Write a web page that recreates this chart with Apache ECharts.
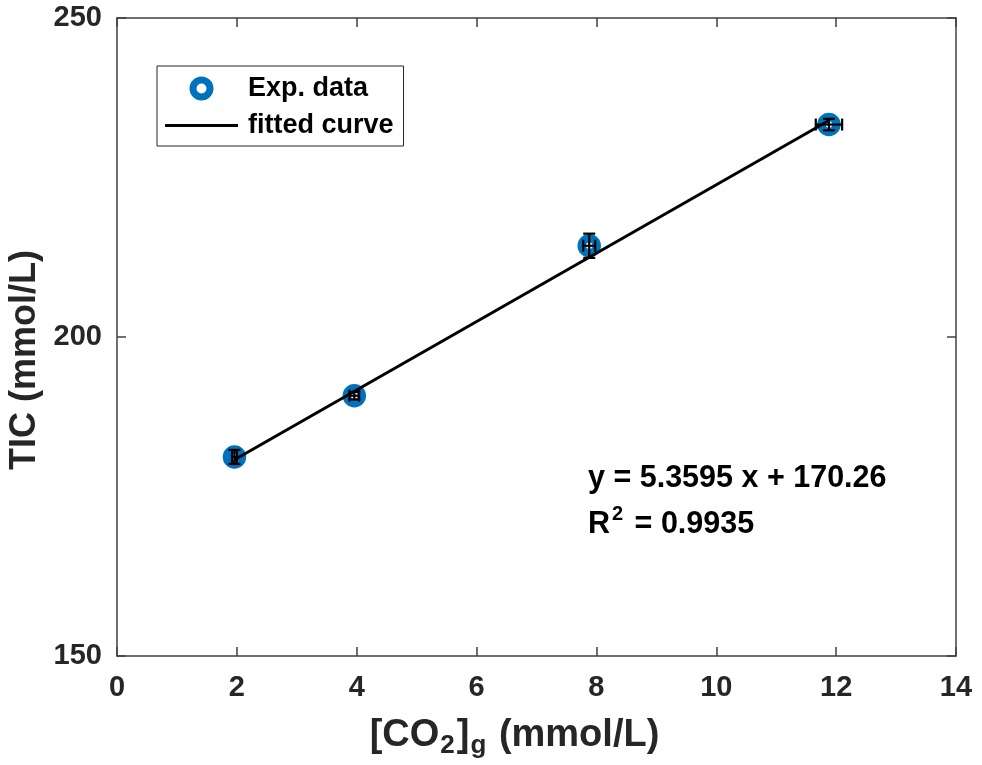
<!DOCTYPE html>
<html>
<head>
<meta charset="utf-8">
<title>TIC vs gaseous CO2</title>
<script src="https://cdn.jsdelivr.net/npm/echarts@6/dist/echarts.min.js"></script>
<style>
  html, body { margin: 0; padding: 0; background: #fff; }
  #chart { width: 982px; height: 765px; }
</style>
</head>
<body>
<div id="chart"></div>
<script>
// Measured points: gaseous CO2 concentration vs total inorganic carbon
const co2 = [1.96, 3.96, 7.88, 11.88];
const tic = [181.2, 190.8, 214.3, 233.3];
// Error bar half-widths
const co2Err = [0.04, 0.08, 0.1, 0.22];
const ticErr = [1.1, 0.6, 1.9, 0.9];
// Linear fit coefficients
const slope = 5.3595;
const intercept = 170.26;
const r2 = 0.9935;
// Axis ranges and tick spacing
const xRange = [0, 14];
const xStep = 2;
const yRange = [150, 250];
const yStep = 50;

const FONT = 'Liberation Sans, Arial, sans-serif';
const TXT = '#262626';
const AX = '#404040';
const BLUE = '#0072BD';

const points = co2.map((x, i) => [x, tic[i], co2Err[i], ticErr[i]]);
const xFirst = co2[0], xLast = co2[co2.length - 1];
const fitLine = [
  [xFirst, slope * xFirst + intercept],
  [xLast, slope * xLast + intercept]
];

const chart = echarts.init(document.getElementById('chart'), null, { renderer: 'canvas' });

function axisBase(extra) {
  return Object.assign({
    type: 'value',
    axisLine: { show: true, onZero: false, lineStyle: { color: AX, width: 1.5 } },
    axisTick: { show: true, inside: true, length: 9, lineStyle: { color: AX, width: 1.5 } },
    splitLine: { show: false },
    axisLabel: { color: TXT, fontFamily: FONT, fontWeight: 'bold', fontSize: 29 }
  }, extra);
}

const option = {
  animation: false,
  backgroundColor: '#fff',
  grid: { left: 117, right: 26, top: 18, bottom: 109, containLabel: false, outerBoundsMode: 'none' },
  xAxis: [
    axisBase({
      min: xRange[0], max: xRange[1], interval: xStep, position: 'bottom',
      axisLabel: { color: TXT, fontFamily: FONT, fontWeight: 'bold', fontSize: 29, margin: 17 },
      name: '[CO{sub|2}]{sub|g} (mmol/L)',
      nameLocation: 'middle',
      nameGap: 61,
      nameTextStyle: {
        color: TXT, fontFamily: FONT, fontWeight: 'bold', fontSize: 38, lineHeight: 38,
        padding: [0, 44, 0, 0],
        rich: {
          sub: { fontFamily: FONT, fontWeight: 'bold', fontSize: 26, lineHeight: 26, padding: [20, 2, 0, 1], color: TXT }
        }
      }
    }),
    axisBase({
      min: xRange[0], max: xRange[1], interval: xStep, position: 'top',
      axisLabel: { show: false }
    })
  ],
  yAxis: [
    axisBase({
      min: yRange[0], max: yRange[1], interval: yStep, position: 'left',
      axisLabel: { color: TXT, fontFamily: FONT, fontWeight: 'bold', fontSize: 29, margin: 15 },
      name: 'TIC (mmol/L)',
      nameLocation: 'middle',
      nameGap: 70,
      nameTextStyle: { color: TXT, fontFamily: FONT, fontWeight: 'bold', fontSize: 36, padding: [0, 46, 0, 0] }
    }),
    axisBase({
      min: yRange[0], max: yRange[1], interval: yStep, position: 'right',
      axisLabel: { show: false }
    })
  ],
  legend: {
    orient: 'vertical',
    left: 157,
    top: 66,
    padding: [9, 10, 7, 8],
    itemGap: 10,
    itemWidth: 73,
    itemHeight: 17,
    borderColor: TXT,
    borderWidth: 1,
    backgroundColor: '#fff',
    textStyle: { color: '#000', fontFamily: FONT, fontWeight: 'bold', fontSize: 27, padding: [0, 0, 0, 5] },
    data: [
      { name: 'Exp. data', icon: 'circle', itemStyle: { color: '#fff', borderColor: BLUE, borderWidth: 7 } },
      { name: 'fitted curve', icon: 'path://M0,0H73V3H0Z', itemStyle: { color: '#000', borderWidth: 0 } }
    ]
  },
  series: [
    {
      name: 'Exp. data',
      type: 'scatter',
      data: points,
      symbol: 'circle',
      symbolSize: 15,
      itemStyle: { color: '#fff', borderColor: BLUE, borderWidth: 8.5, opacity: 1 },
      z: 2
    },
    {
      name: 'fitted curve',
      type: 'line',
      data: fitLine,
      symbol: 'none',
      showSymbol: false,
      lineStyle: { color: '#000', width: 3 },
      itemStyle: { color: '#000' },
      z: 3
    },
    {
      name: 'error bars',
      type: 'custom',
      data: points,
      z: 4,
      silent: true,
      renderItem: function (params, api) {
        const x = api.value(0), y = api.value(1), ex = api.value(2), ey = api.value(3);
        const top = api.coord([x, y + ey]);
        const bot = api.coord([x, y - ey]);
        const lft = api.coord([x - ex, y]);
        const rgt = api.coord([x + ex, y]);
        const cap = 6;
        const style = { stroke: '#000', lineWidth: 2.2 };
        const seg = (x1, y1, x2, y2) => ({ type: 'line', shape: { x1, y1, x2, y2 }, style });
        return {
          type: 'group',
          children: [
            seg(top[0], top[1], bot[0], bot[1]),
            seg(top[0] - cap, top[1], top[0] + cap, top[1]),
            seg(bot[0] - cap, bot[1], bot[0] + cap, bot[1]),
            seg(lft[0], lft[1], rgt[0], rgt[1]),
            seg(lft[0], lft[1] - cap, lft[0], lft[1] + cap),
            seg(rgt[0], rgt[1] - cap, rgt[0], rgt[1] + cap)
          ]
        };
      }
    }
  ],
  graphic: [
    {
      type: 'text',
      x: 588,
      y: 479,
      style: {
        text: 'y = ' + slope + ' x + ' + intercept,
        fill: '#000',
        font: 'bold 30.5px ' + FONT,
        verticalAlign: 'middle'
      }
    },
    {
      type: 'text',
      x: 588,
      y: 525,
      style: {
        text: 'R{sup|2} = ' + r2,
        fill: '#000',
        font: 'bold 30.5px ' + FONT,
        lineHeight: 30,
        verticalAlign: 'middle',
        rich: {
          sup: { fontFamily: FONT, fontWeight: 'bold', fontSize: 20, lineHeight: 20, padding: [0, 3, 22, 2], fill: '#000' }
        }
      }
    }
  ]
};

chart.setOption(option);
</script>
</body>
</html>
